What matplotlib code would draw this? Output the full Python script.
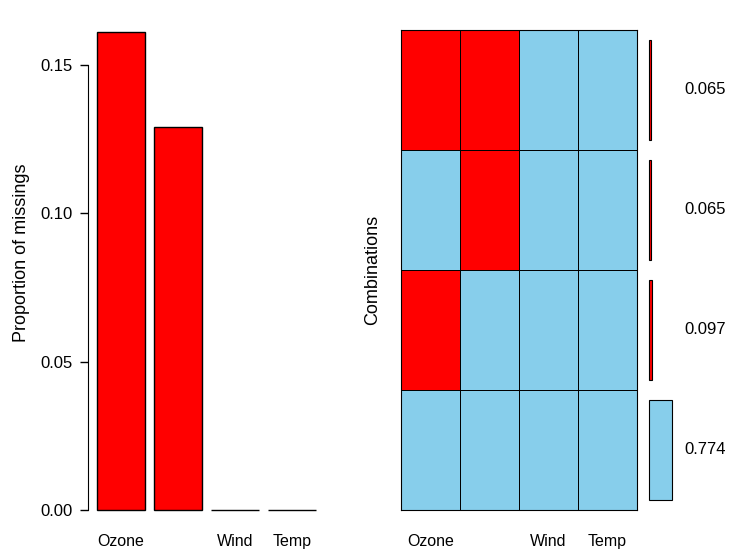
import numpy as np
import matplotlib.pyplot as plt
from matplotlib.colors import ListedColormap

plt.rcParams['font.family'] = ['Liberation Sans', 'DejaVu Sans']

# dados
variaveis = ["Ozone", "Solar.R", "Wind", "Temp"]
rotulos_x = ["Ozone", "", "Wind", "Temp"]
prop_missing = [0.161, 0.129, 0.0, 0.0]
# combinações de cima para baixo (1 = faltante)
combinacoes = [
    [1, 1, 0, 0],
    [0, 1, 0, 0],
    [1, 0, 0, 0],
    [0, 0, 0, 0],
]
prop_comb = [0.065, 0.065, 0.097, 0.774]
rotulos_comb = ["0.065", "0.065", "0.097", "0.774"]

VERMELHO = "#FF0000"
AZUL = "#87CEEB"

W, H = 738, 560
fig = plt.figure(figsize=(W / 100, H / 100), dpi=100)


def eixo(x0, y0, x1, y1):
    # coordenadas em pixels (origem no topo)
    return fig.add_axes([x0 / W, 1 - y1 / H, (x1 - x0) / W, (y1 - y0) / H])


# painel da esquerda: barras
ax1 = eixo(88, 30, 325, 510)
pos = 0.7 + 1.2 * np.arange(len(variaveis))
barras = ax1.bar(pos, prop_missing, width=1.0, color=VERMELHO, edgecolor="black", linewidth=1)
for b in barras:
    b.set_clip_on(False)
ax1.set_xlim(0.01, 0.2 + (325 - 97) / 47.5)
ax1.set_ylim(0, 480 / 2966.7)
ax1.set_yticks([0.0, 0.05, 0.10, 0.15])
ax1.set_yticklabels(["0.00", "0.05", "0.10", "0.15"])
ax1.set_xticks(pos)
ax1.set_xticklabels(rotulos_x)
ax1.tick_params(axis="x", length=0, pad=17, labelsize=11.5)
ax1.tick_params(axis="y", length=6, width=1, labelsize=12, pad=5)
for s in ["top", "right", "bottom"]:
    ax1.spines[s].set_visible(False)
ax1.spines["left"].set_bounds(0, 0.15)
ax1.set_ylabel("Proportion of missings", fontsize=13)
ax1.yaxis.set_label_coords(-58 / 237, 0.535)

# painel do meio: grade de combinações
ax2 = eixo(401, 30, 637, 510)
grade = np.array(combinacoes[::-1])
ax2.pcolormesh(grade, cmap=ListedColormap([AZUL, VERMELHO]), vmin=0, vmax=1,
               edgecolors="black", linewidth=0.6)
ax2.set_xlim(0, 4)
ax2.set_ylim(0, 4)
ax2.set_xticks(np.arange(4) + 0.5)
ax2.set_xticklabels(rotulos_x)
ax2.set_yticks([])
ax2.tick_params(axis="x", length=0, pad=17, labelsize=11.5)
ax2.set_ylabel("Combinations", fontsize=13, labelpad=14)
for s in ax2.spines.values():
    s.set_linewidth(0.8)

# painel da direita: proporção de cada combinação
ax3 = eixo(649, 30, 672, 510)
cores = [VERMELHO if sum(c) > 0 else AZUL for c in combinacoes]
ypos = np.arange(4)[::-1] + 0.5
hb = ax3.barh(ypos, prop_comb, height=100 / 120, color=cores, edgecolor="black", linewidth=0.8)
for b in hb:
    b.set_clip_on(False)
ax3.set_xlim(0, 0.774)
ax3.set_ylim(0, 4)
ax3.axis("off")
for y, r in zip(ypos, rotulos_comb):
    fig.text(684 / W, 1 - (30 + (4 - y) * 120) / H, r, fontsize=12, va="center", ha="left")

fig.savefig("out.png", dpi=100)
